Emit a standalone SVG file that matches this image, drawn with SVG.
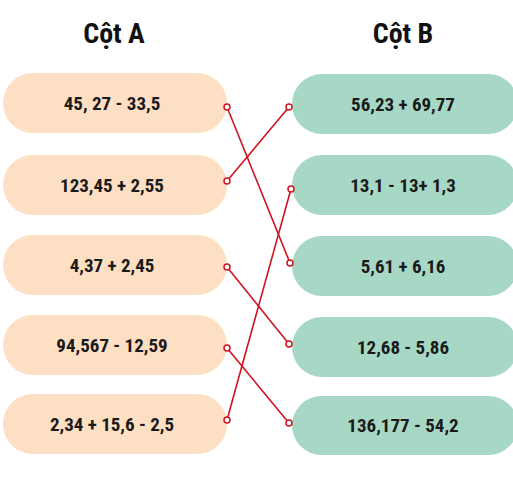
<svg xmlns="http://www.w3.org/2000/svg" width="513" height="480" viewBox="0 0 513 480">
<style>
.a{fill:#FDDFC3}
.b{fill:#A7D8C5}
.t{font-family:"Liberation Sans Narrow","Roboto Condensed","Liberation Sans",sans-serif;font-weight:bold;font-size:19px;fill:#1a1a1a;text-anchor:middle}
.h{font-family:"Liberation Sans Narrow","Roboto Condensed","Liberation Sans",sans-serif;font-weight:bold;font-size:28px;fill:#111;text-anchor:middle}
.c{stroke:#CF1420;stroke-width:1.6;fill:none}
.d{stroke:#CF1420;stroke-width:1.5;fill:#fff}
</style>
<rect width="513" height="480" fill="#fff"/>
<text class="h" x="114" y="43">Cột A</text>
<text class="h" x="403" y="43">Cột B</text>
<g id="A1"><rect class="a" x="3" y="73" width="224" height="60" rx="30"/><text class="t" x="112" y="110">45, 27 - 33,5</text></g>
<g id="A2"><rect class="a" x="3" y="155" width="224" height="60" rx="30"/><text class="t" x="112" y="192">123,45 + 2,55</text></g>
<g id="A3"><rect class="a" x="3" y="235" width="224" height="60" rx="30"/><text class="t" x="112" y="272">4,37 + 2,45</text></g>
<g id="A4"><rect class="a" x="3" y="315" width="224" height="60" rx="30"/><text class="t" x="112" y="352">94,567 - 12,59</text></g>
<g id="A5"><rect class="a" x="3" y="394" width="224" height="60" rx="30"/><text class="t" x="112" y="431">2,34 + 15,6 - 2,5</text></g>
<g id="B1"><rect class="b" x="292" y="74" width="226" height="60" rx="30"/><text class="t" x="403" y="111">56,23 + 69,77</text></g>
<g id="B2"><rect class="b" x="292" y="155" width="226" height="60" rx="30"/><text class="t" x="403" y="192">13,1 - 13+ 1,3</text></g>
<g id="B3"><rect class="b" x="292" y="236" width="226" height="60" rx="30"/><text class="t" x="403" y="273">5,61 + 6,16</text></g>
<g id="B4"><rect class="b" x="292" y="317" width="226" height="60" rx="30"/><text class="t" x="403" y="354">12,68 - 5,86</text></g>
<g id="B5"><rect class="b" x="292" y="396" width="226" height="59" rx="29.5"/><text class="t" x="403" y="432">136,177 - 54,2</text></g>
<g id="connectors">
<line class="c" x1="227" y1="107" x2="290" y2="263"/>
<line class="c" x1="227" y1="181" x2="289" y2="107"/>
<line class="c" x1="227" y1="267" x2="289" y2="344"/>
<line class="c" x1="227" y1="348" x2="289" y2="423"/>
<line class="c" x1="227" y1="420" x2="291" y2="189"/>
<circle class="d" cx="227" cy="107" r="3"/>
<circle class="d" cx="289" cy="107" r="3"/>
<circle class="d" cx="227" cy="181" r="3"/>
<circle class="d" cx="291" cy="189" r="3"/>
<circle class="d" cx="290" cy="263" r="3"/>
<circle class="d" cx="227" cy="267" r="3"/>
<circle class="d" cx="289" cy="344" r="3"/>
<circle class="d" cx="227" cy="348" r="3"/>
<circle class="d" cx="227" cy="420" r="3"/>
<circle class="d" cx="289" cy="423" r="3"/>
</g>
</svg>
